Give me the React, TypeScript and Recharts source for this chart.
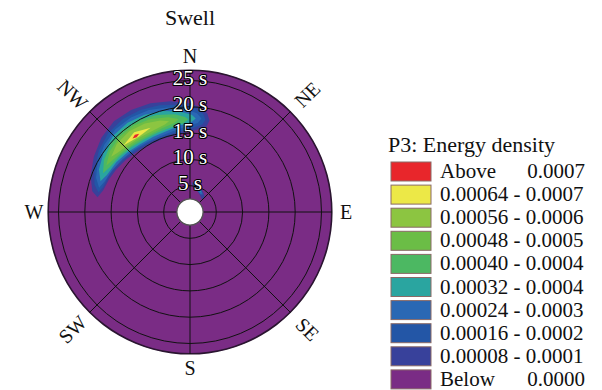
import React from "react"
import {
    PieChart,
    Pie,
    RadarChart,
    Radar,
    PolarGrid,
    PolarAngleAxis,
    PolarRadiusAxis
} from "recharts"

const W = 602
const H = 390
const CX = 190
const CY = 212
const R = 142
const T_MAX = 26.6
const FONT = '"Liberation Serif", "Times New Roman", serif'
const NO_MARGIN = { top: 0, right: 0, bottom: 0, left: 0 }

// compass labels and period rings
const directions = ["N", "NE", "E", "SE", "S", "SW", "W", "NW"]
const periodTicks = [5, 10, 15, 20, 25]

// legend
const legendLabels = [
    ["Above", "0.0007"],
    ["0.00064 - 0.0007"],
    ["0.00056 - 0.0006"],
    ["0.00048 - 0.0005"],
    ["0.00040 - 0.0004"],
    ["0.00032 - 0.0004"],
    ["0.00024 - 0.0003"],
    ["0.00016 - 0.0002"],
    ["0.00008 - 0.0001"],
    ["Below", "0.0000"]
]
const legendColors = [
    "#e8262b", "#ece847", "#8cc541", "#6bbd46", "#4cb862",
    "#2aa5a0", "#2a68b4", "#2356a6", "#38419b", "#7a2c85"
]
const bgColor = "#7a2c85"

// contour polygons, [direction (deg from N, west negative), period (s)]
const level1 = [
    [-81, 17.8], [-78, 19.0], [-70, 20.1], [-60, 21.1], [-50, 22.0], [-40, 22.5], [-30, 22.4],
    [-20, 22.0], [-10, 21.4], [0, 20.7], [6, 20.0], [10, 19.0], [12, 17.8],
    [11, 16.6], [6, 15.8], [0, 15.3], [-10, 14.9], [-20, 14.8], [-30, 14.9], [-40, 15.2],
    [-50, 15.7], [-60, 16.2], [-68, 16.6], [-76, 17.0]
]
const level2 = [
    [-78, 17.8], [-74, 18.9], [-66, 19.9], [-56, 20.9], [-46, 21.6], [-36, 21.8], [-26, 21.6],
    [-16, 21.1], [-6, 20.5], [2, 19.8], [7.5, 18.9], [9.5, 17.8],
    [8, 16.8], [2, 16.0], [-8, 15.4], [-18, 15.2], [-28, 15.3], [-38, 15.5], [-48, 16.0],
    [-58, 16.5], [-66, 16.9], [-74, 17.2]
]
const level3 = [
    [-75, 17.9], [-70, 19.0], [-62, 19.9], [-52, 20.7], [-42, 21.2], [-32, 21.2], [-22, 20.9],
    [-12, 20.3], [-3, 19.6], [4, 18.8], [7, 17.9],
    [5, 17.0], [-2, 16.3], [-12, 15.7], [-22, 15.5], [-32, 15.6], [-42, 15.9], [-52, 16.3],
    [-62, 16.8], [-70, 17.2]
]
const level4 = [
    [-71, 18.0], [-65, 19.1], [-55, 20.0], [-45, 20.6], [-35, 20.7], [-25, 20.4], [-15, 19.9],
    [-6, 19.2], [1, 18.5], [3.5, 17.8],
    [1, 17.1], [-6, 16.6], [-16, 16.0], [-26, 15.9], [-36, 16.0], [-46, 16.4], [-56, 16.9],
    [-66, 17.3]
]
const level5 = [
    [-66, 18.1], [-59, 19.1], [-49, 19.9], [-39, 20.2], [-29, 20.0], [-19, 19.5], [-9, 18.8],
    [-3, 18.1], [-1, 17.6],
    [-4, 17.0], [-12, 16.5], [-22, 16.3], [-32, 16.3], [-42, 16.6], [-52, 17.1], [-61, 17.5]
]
const level6 = [
    [-61, 18.2], [-53, 19.1], [-43, 19.6], [-33, 19.6], [-23, 19.2], [-13, 18.5], [-7, 17.8],
    [-10, 17.2], [-18, 16.8], [-28, 16.6], [-38, 16.8], [-48, 17.2], [-56, 17.7]
]
const level7 = [
    [-55, 18.3], [-47, 19.0], [-37, 19.2], [-27, 18.9], [-18, 18.3], [-13, 17.7],
    [-16, 17.3], [-25, 17.0], [-35, 17.1], [-45, 17.4], [-51, 17.8]
]
const level8 = [[-45, 17.9], [-35, 18.5], [-25, 17.7], [-34, 17.3]]
const level9 = [[-38, 17.75], [-35.5, 18.05], [-33, 17.75], [-35.5, 17.45]]

// small patch near the 5 s ring
const small1 = [
    [3, 5.7], [12, 5.5], [22, 5.1], [32, 4.6], [40, 4.2], [46, 3.9],
    [44, 3.3], [36, 3.5], [26, 3.9], [16, 4.4], [6, 4.8]
]
const small3 = [[10, 5.3], [20, 4.95], [30, 4.5], [36, 4.1], [30, 3.9], [20, 4.3], [12, 4.7]]
const small4 = [[16, 5.0], [26, 4.6], [30, 4.3], [22, 4.4]]

const contours = [
    { pts: level1, color: legendColors[8] },
    { pts: level2, color: legendColors[7] },
    { pts: level3, color: legendColors[6] },
    { pts: level4, color: legendColors[5] },
    { pts: level5, color: legendColors[4] },
    { pts: level6, color: legendColors[3] },
    { pts: level7, color: legendColors[2] },
    { pts: level8, color: legendColors[1] },
    { pts: level9, color: legendColors[0] },
    { pts: small1, color: legendColors[8] },
    { pts: small3, color: legendColors[6] },
    { pts: small4, color: legendColors[5] }
]

const layer: React.CSSProperties = { position: "absolute", left: 0, top: 0 }

function ContourLayer({ pts, color }: { pts: number[][]; color: string }) {
    const data = pts.map(([dir, t]) => ({ dir, t }))
    return (
        <div style={layer}>
            <RadarChart
                width={W}
                height={H}
                data={data}
                margin={NO_MARGIN}
                cx={CX}
                cy={CY}
                innerRadius={0}
                outerRadius={R}
                startAngle={270}
                endAngle={-90}
            >
                <PolarAngleAxis dataKey="dir" type="number" domain={[-180, 180]} allowDataOverflow
                    tick={false} tickLine={false} axisLine={false} />
                <PolarRadiusAxis type="number" domain={[0, T_MAX]} allowDataOverflow
                    tick={false} tickLine={false} axisLine={false} />
                <Radar dataKey="t" fill={color} fillOpacity={1} stroke="none" dot={false} isAnimationActive={false} />
            </RadarChart>
        </div>
    )
}

function DirTick(props: any) {
    const { x, y, payload } = props
    const name: string = payload.value
    const diag = name.length === 2
    const a = (payload.coordinate * Math.PI) / 180
    const extra = diag ? 10 : 0
    const px = x + extra * Math.cos(a)
    const py = y - extra * Math.sin(a)
    const rot = diag ? (name === "NE" || name === "SW" ? -45 : 45) : 0
    return (
        <text
            x={px}
            y={py}
            dy="0.34em"
            textAnchor="middle"
            transform={`rotate(${rot} ${px} ${py})`}
            fontSize={20}
            fontFamily={FONT}
            fill="#111"
        >
            {name}
        </text>
    )
}

function PeriodTick(props: any) {
    const { x, y, payload } = props
    return (
        <text
            x={x}
            y={y}
            dy={4.5}
            textAnchor="middle"
            fontSize={21}
            fontFamily={FONT}
            fill="#fff"
            stroke="#000"
            strokeWidth={2.2}
            paintOrder="stroke"
            strokeLinejoin="round"
        >
            {`${payload.value} s`}
        </text>
    )
}

export default function App() {
    const dirData = directions.map((name) => ({ name }))
    return (
        <div style={{ position: "absolute", left: 0, top: 0, width: W, height: H, background: "#fff" }}>
            {/* disk */}
            <div style={layer}>
                <PieChart width={W} height={H} margin={NO_MARGIN}>
                    <Pie data={[{ value: 1 }]} dataKey="value" cx={CX} cy={CY} innerRadius={0} outerRadius={R}
                        startAngle={90} endAngle={-270} fill={bgColor} stroke="none" isAnimationActive={false} />
                    <Pie data={[{ value: 1 }]} dataKey="value" cx={CX} cy={CY} innerRadius={R - 1} outerRadius={R + 0.6}
                        startAngle={90} endAngle={-270} fill="#2a1530" stroke="none" isAnimationActive={false} />
                </PieChart>
            </div>

            {contours.map((c, i) => (
                <ContourLayer key={i} pts={c.pts} color={c.color} />
            ))}

            {/* grid, compass and period labels */}
            <div style={layer}>
                <RadarChart width={W} height={H} data={dirData} margin={NO_MARGIN} cx={CX} cy={CY}
                    innerRadius={0} outerRadius={R} startAngle={90} endAngle={-270}>
                    <PolarGrid gridType="circle" stroke="#111" strokeWidth={1} />
                    <PolarAngleAxis dataKey="name" tick={<DirTick />} tickLine={false} axisLine={false} tickSize={14} />
                    <PolarRadiusAxis angle={90} type="number" domain={[0, T_MAX]} allowDataOverflow ticks={periodTicks}
                        tickCount={6} tick={<PeriodTick />} axisLine={false} tickLine={false} />
                </RadarChart>
            </div>

            {/* center hole */}
            <div style={layer}>
                <PieChart width={W} height={H} margin={NO_MARGIN}>
                    <Pie data={[{ value: 1 }]} dataKey="value" cx={CX} cy={CY} innerRadius={0} outerRadius={13}
                        startAngle={90} endAngle={-270} fill="#fff" stroke="none" isAnimationActive={false} />
                    <Pie data={[{ value: 1 }]} dataKey="value" cx={CX} cy={CY} innerRadius={12.5} outerRadius={13.8}
                        startAngle={90} endAngle={-270} fill="#555" stroke="none" isAnimationActive={false} />
                </PieChart>
            </div>

            {/* title and legend */}
            <svg width={W} height={H} style={layer} fontFamily={FONT}>
                <text x={CX} y={25} textAnchor="middle" fontSize={22} fill="#111">Swell</text>
                <text x={388} y={152} fontSize={22} fill="#111">P3: Energy density</text>
                {legendLabels.map((lab, i) => {
                    const top = 162 + i * 23.1
                    return (
                        <g key={i}>
                            <rect x={391} y={top} width={40} height={19} fill={legendColors[i]} stroke="#8a6a66" strokeWidth={1} />
                            <text x={440} y={top + 16} fontSize={21} fill="#111">{lab[0]}</text>
                            {lab[1] && (
                                <text x={585} y={top + 16} fontSize={21} fill="#111" textAnchor="end">{lab[1]}</text>
                            )}
                        </g>
                    )
                })}
            </svg>
        </div>
    )
}
